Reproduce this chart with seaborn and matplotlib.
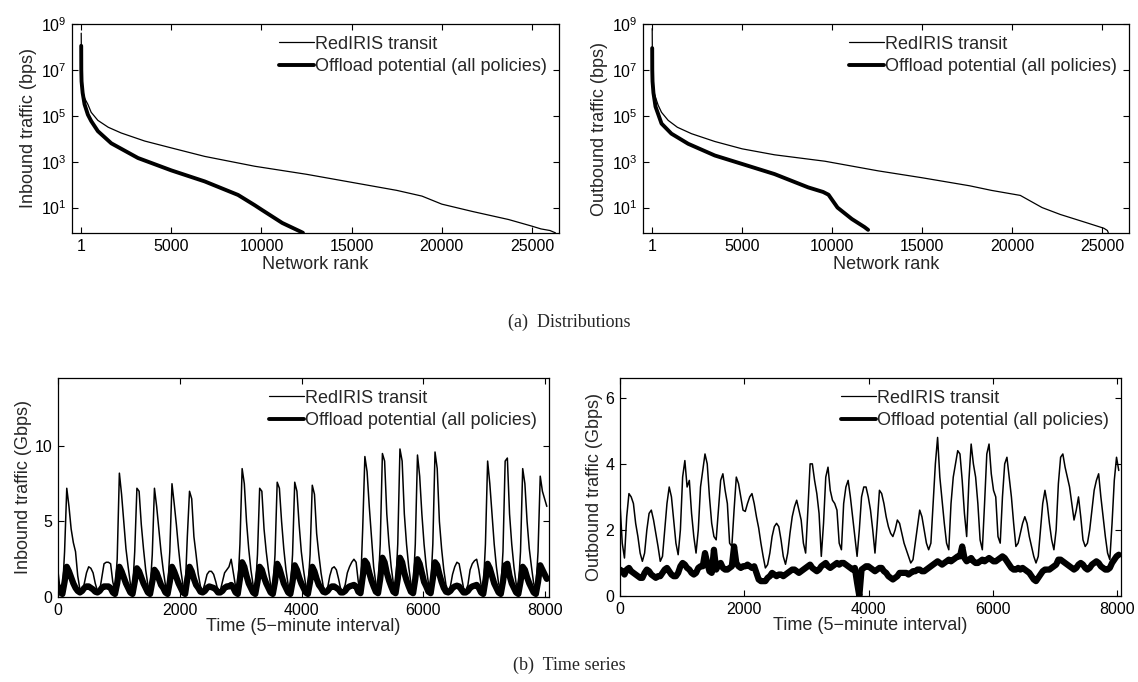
import numpy as np
import pandas as pd
import matplotlib
matplotlib.use('Agg')
import matplotlib.pyplot as plt
import seaborn as sns
from matplotlib.lines import Line2D
from matplotlib.ticker import NullLocator

# ------------ Distributions (rank vs log10 bps) ------------
in_rank_transit = [1, 20, 100, 200, 370, 555, 925, 1500, 2220, 3520, 5000, 6850, 9630,
                   12500, 15000, 17500, 18900, 20000, 21700, 23700, 25000, 25500, 26000, 26300]
in_log_transit = [8.6, 6.6, 6.0, 5.75, 5.5, 5.15, 4.8, 4.5, 4.25, 3.9, 3.6, 3.23, 2.8,
                  2.45, 2.1, 1.75, 1.5, 1.15, 0.83, 0.48, 0.19, 0.07, 0.0, -0.1]
in_rank_offload = [1, 5, 20, 80, 186, 370, 555, 925, 1670, 3150, 5000, 6850, 8700,
                   9630, 10000, 11150, 12200, 12300]
in_log_offload = [8.05, 7.0, 6.5, 6.0, 5.5, 5.05, 4.77, 4.33, 3.8, 3.16, 2.62, 2.14, 1.55,
                  1.1, 0.91, 0.33, -0.06, -0.1]

out_rank_transit = [1, 20, 100, 333, 520, 890, 1400, 2185, 3480, 5000, 6800, 9600, 12560,
                    15000, 17640, 18850, 20460, 21670, 22680, 24100, 24700, 25100, 25300, 25350]
out_log_transit = [8.8, 6.6, 6.0, 5.46, 5.15, 4.8, 4.5, 4.22, 3.88, 3.56, 3.3, 3.02, 2.6,
                   2.3, 1.95, 1.75, 1.53, 1.0, 0.7, 0.35, 0.2, 0.1, 0.0, -0.1]
out_rank_offload = [1, 5, 20, 70, 185, 520, 1070, 2000, 3480, 5000, 6800, 8670, 9500,
                    9800, 10300, 11100, 11800, 12000]
out_log_offload = [7.95, 7.0, 6.5, 6.0, 5.4, 4.66, 4.22, 3.78, 3.27, 2.9, 2.46, 1.88, 1.68,
                   1.56, 1.0, 0.5, 0.15, 0.03]

# ------------ Time series (Gbps, one value every 36 five-minute intervals) ------------
step = 36
in_transit = [
    1.7, 0.4, 0.3, 3.0, 7.2, 6.0, 4.5, 3.6,
    3.0, 1.4, 0.5, 0.3, 0.9, 1.6, 2.0, 1.9,
    1.6, 0.9, 0.4, 0.4, 1.3, 2.2, 2.3, 2.3,
    2.2, 1.0, 0.4, 2.5, 8.2, 6.8, 5.0, 3.2,
    2.0, 0.9, 0.4, 3.0, 7.2, 7.0, 4.8, 3.2,
    1.8, 0.8, 0.4, 2.8, 7.2, 6.0, 4.5, 3.0,
    1.8, 0.8, 0.4, 3.0, 7.5, 6.2, 4.8, 3.2,
    1.8, 0.8, 0.4, 4.0, 7.0, 6.5, 4.0, 2.8,
    1.5, 0.7, 0.4, 0.9, 1.5, 1.7, 1.7, 1.5,
    1.0, 0.4, 0.4, 1.0, 1.6, 1.8, 2.0, 2.5,
    1.6, 0.7, 0.4, 3.5, 8.5, 7.5, 5.0, 3.2,
    1.8, 0.8, 0.4, 2.8, 7.2, 7.0, 4.5, 3.0,
    1.8, 0.8, 0.4, 2.8, 7.6, 7.2, 5.0, 3.2,
    1.8, 0.8, 0.4, 2.8, 7.6, 7.0, 4.8, 3.0,
    1.8, 0.8, 0.4, 2.8, 7.4, 6.8, 4.2, 2.8,
    1.6, 0.7, 0.4, 0.6, 1.4, 1.9, 2.0, 1.8,
    1.2, 0.5, 0.4, 0.8, 1.6, 2.0, 2.3, 2.5,
    2.3, 1.0, 0.5, 4.5, 9.3, 8.3, 6.0, 4.0,
    2.0, 0.9, 0.5, 3.5, 9.5, 9.0, 5.5, 3.5,
    2.0, 0.9, 0.5, 3.5, 9.8, 9.0, 5.5, 3.5,
    2.0, 0.9, 0.5, 3.5, 9.4, 8.0, 5.5, 3.5,
    2.0, 0.9, 0.5, 3.5, 9.6, 8.5, 5.0, 3.2,
    1.8, 0.8, 0.4, 0.7, 1.5, 2.0, 2.3, 2.2,
    1.4, 0.6, 0.4, 0.8, 1.8, 2.2, 2.4, 2.5,
    1.8, 0.8, 0.5, 3.5, 9.0, 7.5, 5.5, 3.5,
    2.0, 0.9, 0.5, 3.0, 9.0, 9.2, 5.5, 3.5,
    2.0, 0.9, 0.5, 3.0, 8.5, 7.5, 5.0, 3.2,
    2.0, 0.9, 0.5, 3.0, 8.0, 7.0, 6.5, 6.0,
]
in_offload = [
    0.7, 0.3, 0.2, 1.0, 2.0, 1.7, 1.3, 0.9,
    0.6, 0.4, 0.3, 0.4, 0.6, 0.7, 0.7, 0.6,
    0.5, 0.35, 0.3, 0.4, 0.6, 0.7, 0.7, 0.7,
    0.6, 0.3, 0.2, 0.9, 2.0, 1.7, 1.3, 0.9,
    0.6, 0.3, 0.2, 1.0, 1.9, 1.7, 1.3, 0.9,
    0.6, 0.3, 0.2, 1.0, 1.8, 1.6, 1.2, 0.8,
    0.6, 0.3, 0.2, 1.0, 2.0, 1.7, 1.3, 0.9,
    0.6, 0.3, 0.2, 1.2, 2.0, 1.7, 1.2, 0.8,
    0.6, 0.35, 0.3, 0.4, 0.6, 0.7, 0.65, 0.6,
    0.5, 0.3, 0.3, 0.4, 0.6, 0.7, 0.7, 0.8,
    0.6, 0.3, 0.2, 1.2, 2.3, 2.0, 1.4, 0.9,
    0.6, 0.3, 0.2, 1.0, 2.0, 1.8, 1.3, 0.9,
    0.6, 0.3, 0.2, 1.0, 2.2, 1.9, 1.4, 0.9,
    0.6, 0.3, 0.2, 1.0, 2.1, 1.8, 1.3, 0.9,
    0.6, 0.3, 0.2, 1.0, 2.0, 1.7, 1.2, 0.8,
    0.6, 0.35, 0.3, 0.4, 0.6, 0.7, 0.7, 0.6,
    0.5, 0.3, 0.3, 0.4, 0.6, 0.7, 0.75, 0.8,
    0.7, 0.35, 0.25, 1.3, 2.4, 2.2, 1.6, 1.1,
    0.7, 0.35, 0.25, 1.2, 2.6, 2.3, 1.6, 1.1,
    0.7, 0.35, 0.25, 1.2, 2.6, 2.3, 1.6, 1.1,
    0.7, 0.35, 0.25, 1.2, 2.5, 2.2, 1.6, 1.0,
    0.7, 0.35, 0.25, 1.2, 2.3, 2.1, 1.5, 1.0,
    0.6, 0.35, 0.3, 0.4, 0.6, 0.7, 0.75, 0.7,
    0.5, 0.3, 0.3, 0.4, 0.6, 0.7, 0.75, 0.8,
    0.6, 0.3, 0.2, 1.1, 2.2, 1.9, 1.4, 0.9,
    0.6, 0.3, 0.2, 1.0, 2.1, 2.2, 1.4, 0.9,
    0.6, 0.3, 0.2, 1.0, 2.0, 1.8, 1.3, 0.9,
    0.6, 0.3, 0.2, 1.0, 2.1, 1.8, 1.5, 1.2,
]
out_transit = [
    2.8, 1.6, 1.15, 2.4, 3.1, 3.0, 2.8, 2.2,
    1.8, 1.3, 1.05, 1.3, 2.0, 2.5, 2.6, 2.3,
    1.9, 1.5, 1.05, 1.2, 2.0, 2.8, 3.3, 3.0,
    2.3, 1.6, 1.25, 2.0, 3.6, 4.1, 3.3, 3.5,
    2.5, 1.8, 1.3, 2.0, 3.3, 3.8, 4.3, 4.0,
    3.0, 2.2, 1.8, 1.7, 2.6, 3.5, 3.7, 3.2,
    2.8, 1.6, 1.5, 2.6, 3.6, 3.4, 3.0, 2.6,
    2.56, 2.8, 3.0, 3.1, 2.8, 2.4, 2.06, 1.6,
    1.2, 0.85, 0.95, 1.3, 1.8, 2.1, 2.2, 2.1,
    1.7, 1.2, 0.96, 1.3, 1.9, 2.4, 2.7, 2.9,
    2.6, 2.3, 1.6, 1.3, 2.6, 4.0, 4.0, 3.5,
    3.1, 2.5, 1.2, 2.2, 3.6, 3.9, 3.2, 2.9,
    2.8, 2.6, 1.6, 1.4, 2.8, 3.3, 3.5, 3.0,
    2.4, 1.8, 1.2, 2.0, 3.0, 3.3, 3.3, 3.0,
    2.6, 2.0, 1.3, 2.2, 3.2, 3.1, 2.8, 2.4,
    2.1, 1.9, 1.8, 2.0, 2.3, 2.2, 1.9, 1.6,
    1.4, 1.2, 1.0, 1.1, 1.6, 2.1, 2.6, 2.4,
    2.0, 1.6, 1.4, 1.6, 2.8, 4.0, 4.8, 3.6,
    2.9, 2.2, 1.6, 1.4, 2.8, 3.6, 4.0, 4.4,
    4.3, 3.5, 2.5, 1.8, 3.5, 4.6, 4.0, 3.6,
    2.8, 1.7, 1.4, 2.8, 4.3, 4.6, 3.7, 3.2,
    3.0, 1.8, 1.6, 3.0, 4.0, 4.2, 3.6, 3.0,
    2.2, 1.5, 1.6, 1.9, 2.2, 2.4, 2.2, 1.8,
    1.5, 1.2, 1.0, 1.2, 2.0, 2.8, 3.2, 2.8,
    2.2, 1.7, 1.4, 2.0, 3.4, 4.2, 4.3, 3.9,
    3.6, 3.3, 2.8, 2.3, 2.6, 3.0, 2.4, 1.7,
    1.5, 1.6, 2.0, 2.6, 3.2, 3.5, 3.7, 3.0,
    2.4, 1.8, 1.3, 1.1, 2.2, 3.5, 4.2, 3.8,
]
out_offload = [
    0.8, 0.75, 0.65, 0.8, 0.85, 0.75, 0.7, 0.65,
    0.6, 0.55, 0.55, 0.7, 0.8, 0.75, 0.65, 0.6,
    0.55, 0.6, 0.6, 0.7, 0.8, 0.85, 0.75, 0.65,
    0.6, 0.6, 0.7, 0.9, 1.0, 0.95, 0.85, 0.8,
    0.7, 0.65, 0.7, 0.85, 0.9, 0.9, 1.3, 1.0,
    0.75, 0.7, 1.4, 0.8, 0.95, 1.0, 0.85, 0.8,
    0.8, 0.85, 0.9, 1.5, 1.0, 0.9, 0.85, 0.9,
    0.9, 0.95, 0.9, 0.85, 0.9, 0.7, 0.5, 0.45,
    0.45, 0.45, 0.55, 0.6, 0.7, 0.65, 0.6, 0.65,
    0.65, 0.6, 0.65, 0.7, 0.75, 0.8, 0.8, 0.75,
    0.7, 0.75, 0.8, 0.85, 0.9, 0.95, 0.85, 0.8,
    0.75, 0.8, 0.9, 0.95, 1.0, 0.9, 0.85, 0.9,
    0.95, 1.0, 0.95, 1.0, 1.0, 0.95, 0.9, 0.85,
    0.8, 0.85, 0.4, 0.0, 0.8, 0.85, 0.9, 0.9,
    0.85, 0.8, 0.75, 0.8, 0.85, 0.85, 0.75, 0.7,
    0.6, 0.55, 0.5, 0.55, 0.6, 0.7, 0.7, 0.7,
    0.7, 0.65, 0.7, 0.75, 0.75, 0.8, 0.8, 0.75,
    0.75, 0.8, 0.85, 0.9, 0.95, 1.0, 1.05, 1.0,
    0.95, 1.0, 1.05, 1.1, 1.05, 1.1, 1.15, 1.2,
    1.2, 1.5, 1.15, 1.05, 1.1, 1.15, 1.05, 1.0,
    1.0, 1.05, 1.1, 1.05, 1.1, 1.15, 1.1, 1.05,
    1.05, 1.1, 1.15, 1.2, 1.15, 1.05, 0.95, 0.85,
    0.8, 0.8, 0.85, 0.8, 0.85, 0.8, 0.75, 0.7,
    0.6, 0.5, 0.45, 0.55, 0.65, 0.75, 0.8, 0.8,
    0.8, 0.85, 0.9, 0.95, 1.1, 1.1, 1.05, 1.0,
    0.95, 0.9, 0.85, 0.8, 0.85, 0.95, 1.0, 0.95,
    0.85, 0.8, 0.85, 0.95, 1.0, 1.05, 1.0, 0.9,
    0.85, 0.8, 0.8, 0.85, 1.0, 1.1, 1.2, 1.25,
]

legend_labels = ['RedIRIS transit', 'Offload potential (all policies)']

# ------------ style ------------
sns.set_style('ticks')
plt.rcParams['font.family'] = ['Liberation Sans', 'DejaVu Sans']
plt.rcParams['mathtext.fontset'] = 'custom'
plt.rcParams['mathtext.rm'] = 'Liberation Sans'
plt.rcParams['axes.linewidth'] = 0.9

W, H = 1138, 682
fig = plt.figure(figsize=(W / 100, H / 100), dpi=100)


def box(l, r, t, b):
    return [l / W, 1 - b / H, (r - l) / W, (b - t) / H]


def style_axes(ax):
    ax.tick_params(direction='in', top=True, right=True, length=4, width=0.8,
                   labelsize=11.5, pad=4, colors='black')
    for s in ax.spines.values():
        s.set_color('black')
    handles = [Line2D([], [], color='black', lw=0.9),
               Line2D([], [], color='black', lw=2.8)]
    ax.legend(handles, legend_labels, loc='upper right', frameon=False, fontsize=13,
              handlelength=1.9, handletextpad=0.1, labelspacing=0.3,
              borderaxespad=0.25)


def dist_panel(ax, r1, l1, r2, l2, ylabel):
    d1 = pd.DataFrame({'rank': r1, 'bps': 10 ** np.array(l1)})
    d2 = pd.DataFrame({'rank': r2, 'bps': 10 ** np.array(l2)})
    sns.lineplot(data=d1, x='rank', y='bps', ax=ax, color='black', lw=0.9,
                 estimator=None, sort=False)
    sns.lineplot(data=d2, x='rank', y='bps', ax=ax, color='black', lw=2.8,
                 estimator=None, sort=False)
    ax.set_yscale('log')
    ax.set_xlim(-510, 26500)
    ax.set_ylim(0.78, 1e9)
    ax.set_yticks([1e1, 1e3, 1e5, 1e7, 1e9])
    ax.yaxis.set_minor_locator(NullLocator())
    ax.set_xticks([1, 5000, 10000, 15000, 20000, 25000])
    ax.set_xticklabels(['1', '5000', '10000', '15000', '20000', '25000'])
    ax.set_xlabel('Network rank', fontsize=13, labelpad=1.5)
    ax.set_ylabel(ylabel, fontsize=13, labelpad=3)
    style_axes(ax)


def time_panel(ax, v1, v2, ylim, yticks, ylabel):
    d1 = pd.DataFrame({'t': np.arange(len(v1)) * step, 'g': v1})
    d2 = pd.DataFrame({'t': np.arange(len(v2)) * step, 'g': v2})
    sns.lineplot(data=d1, x='t', y='g', ax=ax, color='black', lw=1.1,
                 estimator=None, sort=False)
    sns.lineplot(data=d2, x='t', y='g', ax=ax, color='black', lw=4.5,
                 estimator=None, sort=False)
    ax.set_xlim(0, 8064)
    ax.set_ylim(*ylim)
    ax.set_yticks(yticks)
    ax.set_xticks([0, 2000, 4000, 6000, 8000])
    ax.set_xlabel('Time (5\u2212minute interval)', fontsize=13, labelpad=0)
    ax.set_ylabel(ylabel, fontsize=13, labelpad=2)
    style_axes(ax)


ax1 = fig.add_axes(box(72, 559, 24, 233))
dist_panel(ax1, in_rank_transit, in_log_transit, in_rank_offload, in_log_offload,
           'Inbound traffic (bps)')
ax2 = fig.add_axes(box(643, 1129, 24, 233))
dist_panel(ax2, out_rank_transit, out_log_transit, out_rank_offload, out_log_offload,
           'Outbound traffic (bps)')
ax3 = fig.add_axes(box(58, 549, 378, 597))
time_panel(ax3, in_transit, in_offload, (0, 14.5), [0, 5, 10], 'Inbound traffic (Gbps)')
ax4 = fig.add_axes(box(620, 1121, 378, 596))
time_panel(ax4, out_transit, out_offload, (0, 6.6), [0, 2, 4, 6], 'Outbound traffic (Gbps)')

fig.text(0.5, 1 - 322 / H, '(a)  Distributions', ha='center', va='center',
         family='Liberation Serif', fontsize=13)
fig.text(0.5, 1 - 665 / H, '(b)  Time series', ha='center', va='center',
         family='Liberation Serif', fontsize=13)

fig.savefig('out.png', dpi=100)
